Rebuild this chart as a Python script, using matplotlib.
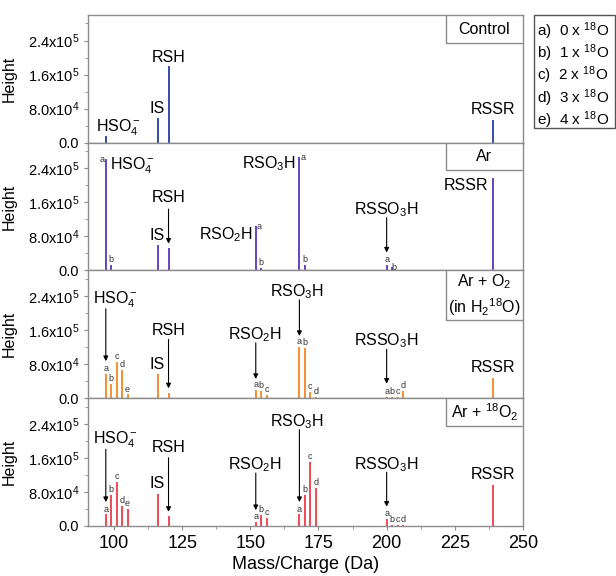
import matplotlib
matplotlib.use("Agg")
import matplotlib.pyplot as plt
from matplotlib.patches import Rectangle
from matplotlib.ticker import MultipleLocator, FuncFormatter

plt.rcParams['font.family'] = ['Liberation Sans', 'DejaVu Sans']
plt.rcParams['mathtext.fontset'] = 'custom'
plt.rcParams['mathtext.rm'] = 'Liberation Sans'
plt.rcParams['mathtext.it'] = 'Liberation Sans:italic'
plt.rcParams['mathtext.bf'] = 'Liberation Sans:bold'

# peak positions (Da) and heights for each condition
ctrl_mz = [97, 116, 120, 239]
ctrl_h = [1.6e4, 5.8e4, 1.79e5, 5.3e4]

ar_mz = [97, 99, 116, 120, 152, 154, 168, 170, 200, 202, 239]
ar_h = [2.61e5, 1.2e4, 6.0e4, 5.3e4, 1.04e5, 5e3, 2.67e5, 1.3e4, 1.3e4, 8e3, 2.18e5]

o2_mz = [97, 99, 101, 103, 105, 116, 120, 152, 154, 156, 168, 170, 172, 174, 200, 202, 204, 206, 239]
o2_h = [5.6e4, 3.4e4, 8.6e4, 6.65e4, 8.6e3, 5.6e4, 1.2e4, 1.9e4, 1.7e4, 7e3,
        1.2e5, 1.18e5, 1.5e4, 2.5e3, 3e3, 3e3, 3e3, 1.7e4, 4.8e4]

o18_mz = [97, 99, 101, 103, 105, 116, 120, 152, 154, 156, 168, 170, 172, 174, 200, 202, 204, 206, 239]
o18_h = [2.7e4, 7.3e4, 1.04e5, 4.6e4, 3.9e4, 7.4e4, 2.3e4, 1.0e4, 2.5e4, 1.9e4,
         2.7e4, 7.3e4, 1.51e5, 8.9e4, 1.55e4, 2.5e3, 2.5e3, 2.5e3, 9.7e4]

# isotope letters per bar ('' = none)
ctrl_tag = ['', '', '', '']
ar_tag = ['a', 'b', '', '', 'a', 'b', 'a', 'b', 'a', 'b', '']
o2_tag = ['a', 'b', 'c', 'd', 'e', '', '', 'a', 'b', 'c', 'a', 'b', 'c', 'd', 'a', 'b', 'c', 'd', '']
o18_tag = ['a', 'b', 'c', 'd', 'e', '', '', 'a', 'b', 'c', 'a', 'b', 'c', 'd', 'a', 'b', 'c', 'd', '']

titles = ['Control', 'Ar', 'Ar + O$_2$\n(in H$_2$$^{18}$O)', 'Ar + $^{18}$O$_2$']
colors = ['#3a4fb0', '#6a48c2', '#f39236', '#ef4f5a']

legend_lines = ['a)  0 x $^{18}$O', 'b)  1 x $^{18}$O', 'c)  2 x $^{18}$O',
                'd)  3 x $^{18}$O', 'e)  4 x $^{18}$O']

# species labels: (text, x, y, ha, arrow x, arrow start, arrow end)
ctrl_lab = [(r'HSO$_4^-$', 101.5, 3.6e4, 'center', None, None, None),
            ('IS', 116, 8.1e4, 'center', None, None, None),
            ('RSH', 120, 2.0e5, 'center', None, None, None),
            ('RSSR', 239, 7.7e4, 'center', None, None, None)]
ar_lab = [(r'HSO$_4^-$', 98.6, 2.47e5, 'left', None, None, None),
          ('IS', 116, 8.1e4, 'center', None, None, None),
          ('RSH', 120, 1.71e5, 'center', 120, 1.44e5, 6.3e4),
          (r'RSO$_2$H', 150.8, 8.5e4, 'right', None, None, None),
          (r'RSO$_3$H', 166.8, 2.51e5, 'right', None, None, None),
          (r'RSSO$_3$H', 200, 1.43e5, 'center', 200, 1.24e5, 4.2e4),
          ('RSSR', 237.3, 2.0e5, 'right', None, None, None)]
o2_lab = [(r'HSO$_4^-$', 100.5, 2.31e5, 'center', 97, 2.1e5, 8.7e4),
          ('IS', 116, 8.0e4, 'center', None, None, None),
          ('RSH', 120, 1.58e5, 'center', 120, 1.38e5, 2.3e4),
          (r'RSO$_2$H', 151.7, 1.5e5, 'center', 152, 1.3e5, 4.5e4),
          (r'RSO$_3$H', 167.2, 2.49e5, 'center', 168, 2.31e5, 1.46e5),
          (r'RSSO$_3$H', 200, 1.35e5, 'center', 200, 1.15e5, 3.4e4),
          ('RSSR', 239, 7.3e4, 'center', None, None, None)]
o18_lab = [(r'HSO$_4^-$', 100.5, 2.03e5, 'center', 97, 1.8e5, 5.6e4),
           ('IS', 116, 9.9e4, 'center', None, None, None),
           ('RSH', 120, 1.84e5, 'center', 120, 1.6e5, 3.3e4),
           (r'RSO$_2$H', 151.7, 1.44e5, 'center', 152, 1.24e5, 3.7e4),
           (r'RSO$_3$H', 167.2, 2.46e5, 'center', 168, 2.26e5, 5.6e4),
           (r'RSSO$_3$H', 200, 1.45e5, 'center', 200, 1.26e5, 4.5e4),
           ('RSSR', 239, 1.2e5, 'center', None, None, None)]

# some letters in the Ar panel sit beside the bar instead of on top
ar_side = {0: -1.3, 4: 1.3, 6: 1.4, 9: 0.8}

frame = '#8c8c8c'


def fmt_height(v, pos):
    if v == 0:
        return '0.0'
    e = 0
    m = v
    while m >= 10:
        m = m / 10
        e += 1
    return '%.1fx10$^{%d}$' % (m, e)


def draw_panel(ax, mz, h, tags, labels, color, title, side=None, box_h=0.22):
    ax.bar(mz, h, width=0.75, color=color)
    for i, t in enumerate(tags):
        if t == '':
            continue
        if side and i in side:
            ax.text(mz[i] + side[i], h[i] - 1.2e4, t, fontsize=6.5, ha='center', va='bottom', color='#333333')
        else:
            ax.text(mz[i], h[i] + 2e3, t, fontsize=6.5, ha='center', va='bottom', color='#333333')
    for txt, x, y, ha, ax_x, y0, y1 in labels:
        ax.text(x, y, txt, fontsize=11.5, ha=ha, va='center')
        if ax_x is not None:
            ax.annotate('', xy=(ax_x, y1), xytext=(ax_x, y0),
                        arrowprops=dict(arrowstyle='-|>', lw=0.8, color='k', mutation_scale=7, shrinkA=0, shrinkB=0))
    # condition box in top right corner
    ax.add_patch(Rectangle((0.823, 1 - box_h), 0.177, box_h, transform=ax.transAxes,
                           facecolor='white', edgecolor=frame, lw=1, zorder=5))
    ax.text(0.911, 1 - box_h / 2, title, transform=ax.transAxes, fontsize=11.5,
            ha='center', va='center', zorder=6, linespacing=1.3)

    ax.set_xlim(90.5, 250)
    ax.set_ylim(0, 3.0e5)
    ax.xaxis.set_major_locator(MultipleLocator(25))
    ax.xaxis.set_minor_locator(MultipleLocator(12.5))
    ax.yaxis.set_major_locator(MultipleLocator(8e4))
    ax.yaxis.set_minor_locator(MultipleLocator(4e4))
    ax.yaxis.set_major_formatter(FuncFormatter(fmt_height))
    ax.tick_params(axis='y', labelsize=10.5, colors=frame, labelcolor='k', length=3)
    ax.tick_params(axis='x', labelsize=13, colors=frame, labelcolor='k', length=3)
    ax.tick_params(which='minor', colors=frame, length=2)
    for s in ax.spines.values():
        s.set_color(frame)
        s.set_linewidth(1)
    ax.set_ylabel('Height', fontsize=11.5)
    ax.yaxis.set_label_coords(-0.165, 0.5)


fig, axes = plt.subplots(4, 1, figsize=(6.16, 5.76), dpi=100, sharex=True)
fig.subplots_adjust(left=0.143, right=0.849, top=0.974, bottom=0.087, hspace=0)

draw_panel(axes[0], ctrl_mz, ctrl_h, ctrl_tag, ctrl_lab, colors[0], titles[0], box_h=0.22)
draw_panel(axes[1], ar_mz, ar_h, ar_tag, ar_lab, colors[1], titles[1], side=ar_side, box_h=0.21)
draw_panel(axes[2], o2_mz, o2_h, o2_tag, o2_lab, colors[2], titles[2], box_h=0.39)
draw_panel(axes[3], o18_mz, o18_h, o18_tag, o18_lab, colors[3], titles[3], box_h=0.22)

axes[3].set_xlabel('Mass/Charge (Da)', fontsize=13, labelpad=3)

# isotope legend box to the right of the top panel
lx0 = 534 / 616.0
ly0 = 1 - 128 / 576.0
fig.patches.append(Rectangle((lx0, ly0), 81 / 616.0, 113 / 576.0, transform=fig.transFigure,
                             facecolor='white', edgecolor='#555555', lw=1))
for i, s in enumerate(legend_lines):
    fig.text(537 / 616.0, 1 - (31 + 22.3 * i) / 576.0, s, fontsize=11, ha='left', va='center')

fig.savefig('out.png', dpi=100)
